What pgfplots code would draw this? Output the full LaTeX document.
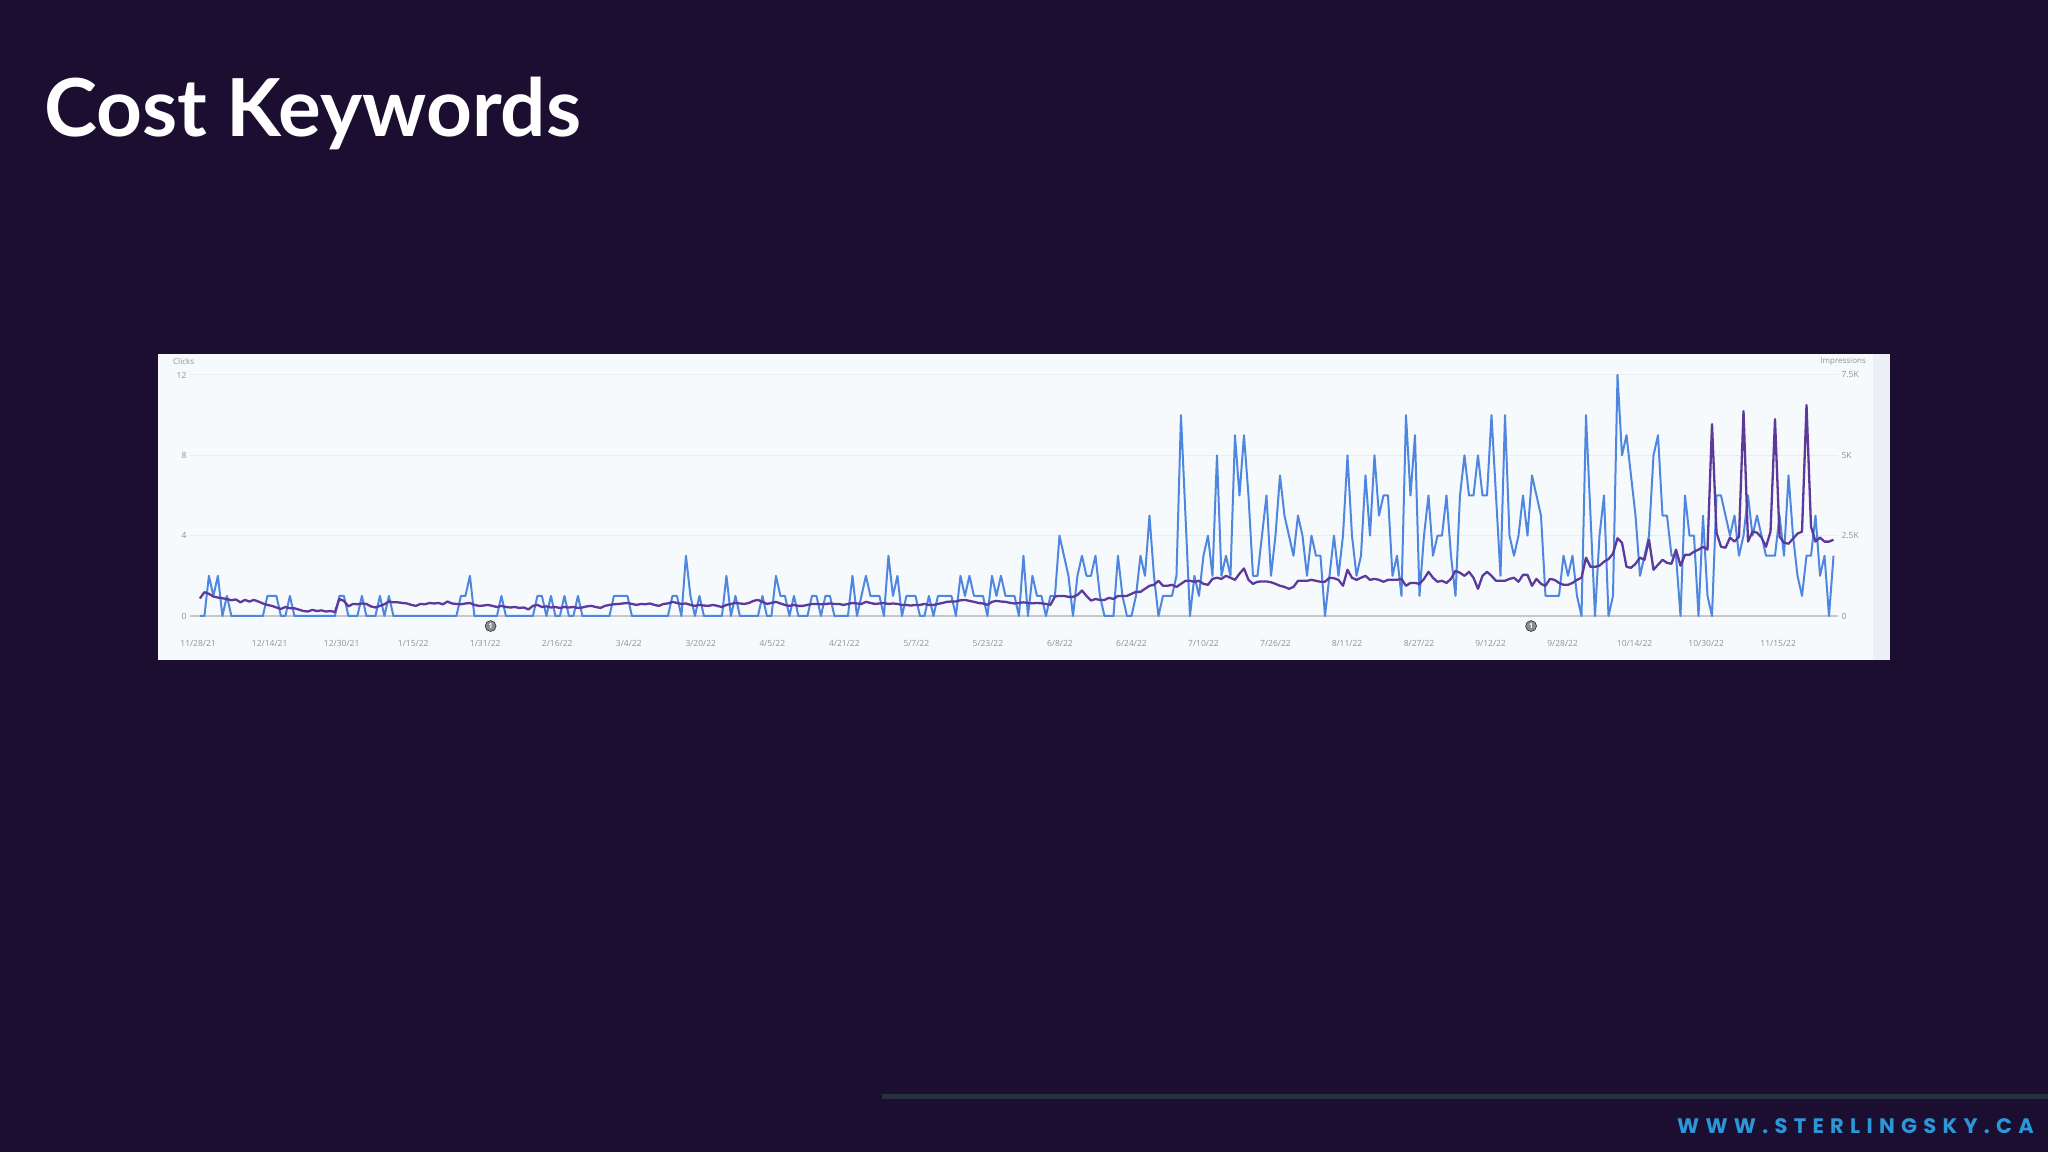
\documentclass[border=0pt]{standalone}
\usepackage{pgfplots}
\pgfplotsset{compat=1.18}
\usepackage{pgfplotstable}
\usepackage{fontspec}
\setmainfont{Lato}
\newfontfamily\titlefont{Lato}
\newfontfamily\chartfont{Open Sans}
\newfontfamily\footfont{Poppins}[LetterSpace=30]

\definecolor{slidebg}{HTML}{1C0E30}
\definecolor{clicksblue}{HTML}{4F87E0}
\definecolor{imprpurple}{HTML}{5B3A9C}
\definecolor{panel}{HTML}{F7FAFD}
\definecolor{panelstrip}{HTML}{ECEFF4}
\definecolor{tickgray}{HTML}{909090}
\definecolor{markgray}{HTML}{8C8C8C}
\definecolor{footline}{HTML}{27313B}
\definecolor{footblue}{HTML}{2C97D8}

% daily clicks (c) and impressions (i), 11/28/21 onwards
\pgfplotstableread[row sep=\\]{
c i \\
0 545 \\ 0 740 \\ 2 690 \\ 1 605 \\ 2 575 \\ 0 550 \\ 1 530 \\ 0 490 \\ 0 515 \\ 0 425 \\
0 500 \\ 0 450 \\ 0 500 \\ 0 450 \\ 0 390 \\ 1 345 \\ 1 315 \\ 1 265 \\ 0 220 \\ 0 280 \\
1 240 \\ 0 240 \\ 0 200 \\ 0 155 \\ 0 140 \\ 0 190 \\ 0 155 \\ 0 175 \\ 0 140 \\ 0 155 \\
0 125 \\ 1 530 \\ 1 470 \\ 0 300 \\ 0 375 \\ 0 365 \\ 1 390 \\ 0 375 \\ 0 300 \\ 0 265 \\
1 315 \\ 0 365 \\ 1 450 \\ 0 425 \\ 0 425 \\ 0 405 \\ 0 390 \\ 0 345 \\ 0 315 \\ 0 375 \\
0 365 \\ 0 405 \\ 0 390 \\ 0 405 \\ 0 365 \\ 0 450 \\ 0 390 \\ 0 375 \\ 1 365 \\ 1 390 \\
2 405 \\ 0 345 \\ 0 315 \\ 0 325 \\ 0 345 \\ 0 315 \\ 0 280 \\ 1 315 \\ 0 280 \\ 0 265 \\
0 280 \\ 0 250 \\ 0 265 \\ 0 205 \\ 0 315 \\ 1 345 \\ 1 280 \\ 0 300 \\ 1 265 \\ 0 280 \\
0 250 \\ 1 280 \\ 0 265 \\ 0 280 \\ 1 250 \\ 0 265 \\ 0 300 \\ 0 315 \\ 0 280 \\ 0 250 \\
0 315 \\ 0 345 \\ 1 365 \\ 1 375 \\ 1 390 \\ 1 405 \\ 0 375 \\ 0 345 \\ 0 375 \\ 0 365 \\
0 390 \\ 0 345 \\ 0 315 \\ 0 375 \\ 0 390 \\ 1 440 \\ 1 405 \\ 0 375 \\ 3 390 \\ 1 345 \\
0 315 \\ 1 345 \\ 0 325 \\ 0 315 \\ 0 345 \\ 0 315 \\ 0 280 \\ 2 345 \\ 0 375 \\ 1 405 \\
0 390 \\ 0 375 \\ 0 405 \\ 0 470 \\ 0 500 \\ 1 440 \\ 0 375 \\ 0 405 \\ 2 440 \\ 1 390 \\
1 345 \\ 0 315 \\ 1 345 \\ 0 315 \\ 0 315 \\ 0 345 \\ 1 375 \\ 1 375 \\ 0 365 \\ 1 375 \\
1 390 \\ 0 375 \\ 0 375 \\ 0 345 \\ 0 375 \\ 2 405 \\ 0 390 \\ 1 375 \\ 2 440 \\ 1 405 \\
1 375 \\ 1 390 \\ 0 405 \\ 3 375 \\ 1 390 \\ 2 375 \\ 0 345 \\ 1 345 \\ 1 325 \\ 1 345 \\
0 345 \\ 0 375 \\ 1 345 \\ 0 345 \\ 1 375 \\ 1 405 \\ 1 440 \\ 1 450 \\ 0 450 \\ 2 490 \\
1 500 \\ 2 470 \\ 1 440 \\ 1 405 \\ 1 390 \\ 0 345 \\ 2 440 \\ 1 470 \\ 2 450 \\ 1 440 \\
1 410 \\ 1 390 \\ 0 405 \\ 3 425 \\ 0 405 \\ 2 395 \\ 1 405 \\ 1 395 \\ 0 375 \\ 1 345 \\
1 605 \\ 4 625 \\ 3 625 \\ 2 595 \\ 0 595 \\ 2 655 \\ 3 795 \\ 2 625 \\ 2 480 \\ 3 530 \\
1 500 \\ 0 500 \\ 0 565 \\ 0 530 \\ 3 625 \\ 1 625 \\ 0 625 \\ 0 690 \\ 1 750 \\ 3 750 \\
2 845 \\ 5 940 \\ 2 970 \\ 0 1095 \\ 1 940 \\ 1 940 \\ 1 970 \\ 2 905 \\ 10 1000 \\ 5 1095 \\
0 1095 \\ 2 1065 \\ 1 1095 \\ 3 1000 \\ 4 970 \\ 2 1155 \\ 8 1190 \\ 2 1155 \\ 3 1250 \\ 2 1190 \\
9 1125 \\ 6 1315 \\ 9 1480 \\ 6 1125 \\ 2 1000 \\ 2 1065 \\ 4 1075 \\ 6 1075 \\ 2 1050 \\ 4 1000 \\
7 940 \\ 5 905 \\ 4 845 \\ 3 905 \\ 5 1095 \\ 4 1095 \\ 2 1095 \\ 4 1125 \\ 3 1095 \\ 3 1065 \\
0 1065 \\ 2 1190 \\ 4 1175 \\ 2 1125 \\ 4 940 \\ 8 1440 \\ 4 1190 \\ 2 1125 \\ 3 1190 \\ 7 1250 \\
4 1125 \\ 8 1155 \\ 5 1125 \\ 6 1065 \\ 6 1125 \\ 2 1125 \\ 3 1125 \\ 1 1155 \\ 10 940 \\ 6 1030 \\
9 1030 \\ 1 1000 \\ 4 1155 \\ 6 1375 \\ 3 1190 \\ 4 1065 \\ 4 1095 \\ 6 1030 \\ 3 1155 \\ 1 1405 \\
6 1345 \\ 8 1250 \\ 6 1375 \\ 6 1190 \\ 8 845 \\ 6 1250 \\ 6 1375 \\ 10 1250 \\ 6 1095 \\ 2 1095 \\
10 1095 \\ 4 1155 \\ 3 1190 \\ 4 1065 \\ 6 1280 \\ 4 1280 \\ 7 940 \\ 6 1155 \\ 5 1000 \\ 1 940 \\
1 1155 \\ 1 1125 \\ 1 1030 \\ 3 970 \\ 2 970 \\ 3 1030 \\ 1 1125 \\ 0 1190 \\ 10 1815 \\ 5 1530 \\
0 1530 \\ 4 1565 \\ 6 1690 \\ 0 1770 \\ 1 1940 \\ 12 2420 \\ 8 2280 \\ 9 1530 \\ 7 1500 \\ 5 1625 \\
2 1815 \\ 3 1750 \\ 4 2375 \\ 8 1440 \\ 9 1595 \\ 5 1750 \\ 5 1655 \\ 3 1625 \\ 3 2065 \\ 0 1565 \\
6 1905 \\ 4 1905 \\ 4 2000 \\ 0 2065 \\ 5 2155 \\ 1 2065 \\ 0 5970 \\ 6 2595 \\ 6 2155 \\ 5 2125 \\
4 2440 \\ 5 2315 \\ 3 2470 \\ 4 6375 \\ 6 2315 \\ 4 2625 \\ 5 2595 \\ 4 2440 \\ 3 2155 \\ 3 2625 \\
3 6125 \\ 5 2470 \\ 3 2280 \\ 7 2250 \\ 4 2405 \\ 2 2565 \\ 1 2625 \\ 3 6565 \\ 3 2780 \\ 5 2315 \\
2 2440 \\ 3 2315 \\ 0 2315 \\ 3 2375 \\
}\gsc

\pgfplotsset{
  gscaxis/.style={
    at={(190pt,536pt)}, anchor=south west,
    scale only axis, width=1648pt, height=241pt,
    xmin=-2.2, xmax=364,
    clip=false,
    axis line style={draw=none},
    major tick length=0pt,
    tick label style={font=\chartfont\fontsize{8.5}{10}\selectfont, text=tickgray},
    /pgf/number format/assume math mode=true,
  }
}

\begin{document}
\begin{tikzpicture}[x=1pt,y=1pt]
\fill[slidebg] (0,0) rectangle (2048,1152);
\node[anchor=base west, inner sep=0, text=white] at (44,1015)
  {\titlefont\bfseries\fontsize{80}{96}\selectfont Cost Keywords};

% chart panel
\fill[panel] (158,492) rectangle (1890,798);
\fill[panelstrip] (1873,492) rectangle (1890,798);

\begin{axis}[gscaxis,
  ymin=0, ymax=12,
  xtick={-0.4,15.5,31.5,47.4,63.4,79.4,95.3,111.3,127.2,143.2,159.2,175.1,191.1,207.0,223.0,239.0,254.9,270.9,286.8,302.8,318.8,334.7,350.7},
  xticklabels={11/28/21,12/14/21,12/30/21,1/15/22,1/31/22,2/16/22,3/4/22,3/20/22,4/5/22,4/21/22,5/7/22,5/23/22,6/8/22,6/24/22,7/10/22,7/26/22,8/11/22,8/27/22,9/12/22,9/28/22,10/14/22,10/30/22,11/15/22},
  xticklabel style={anchor=center, yshift=-27pt},
  ytick={4,8,12}, yticklabels={4,8,12},
  ymajorgrids, grid style={draw=black!7, line width=1pt},
  extra y ticks={0}, extra y tick labels={0},
  extra y tick style={grid=major, grid style={draw=black!22, line width=1.3pt}},
]
\addplot[clicksblue, line width=2pt, line join=round] table[x expr=\coordindex, y=c]{\gsc};
\addplot[only marks, mark=*, mark size=5.5pt, mark options={fill=markgray, draw=none},
  nodes near coords={1},
  every node near coord/.append style={anchor=center, text=white,
    font=\chartfont\bfseries\fontsize{7}{8}\selectfont}]
  coordinates {(64.6,-0.5) (295.8,-0.5)};
\end{axis}

\begin{axis}[gscaxis,
  ymin=0, ymax=7500,
  hide x axis, axis y line*=right,
  ytick={0,2500,5000,7500}, yticklabels={0,2.5K,5K,7.5K},
]
\addplot[imprpurple, line width=2.3pt, line join=round] table[x expr=\coordindex, y=i]{\gsc};
\end{axis}

\node[anchor=west, inner sep=0, text=tickgray, font=\chartfont\fontsize{8}{9}\selectfont] at (173,790) {Clicks};
\node[anchor=east, inner sep=0, text=tickgray, font=\chartfont\fontsize{8}{9}\selectfont] at (1866,790) {Impressions};

% footer
\fill[footline] (882,53) rectangle (2048,58);
\node[anchor=base west, inner sep=0, text=footblue] at (1677,19)
  {\footfont\bfseries\fontsize{21}{24}\selectfont WWW.STERLINGSKY.CA};
\end{tikzpicture}
\end{document}
